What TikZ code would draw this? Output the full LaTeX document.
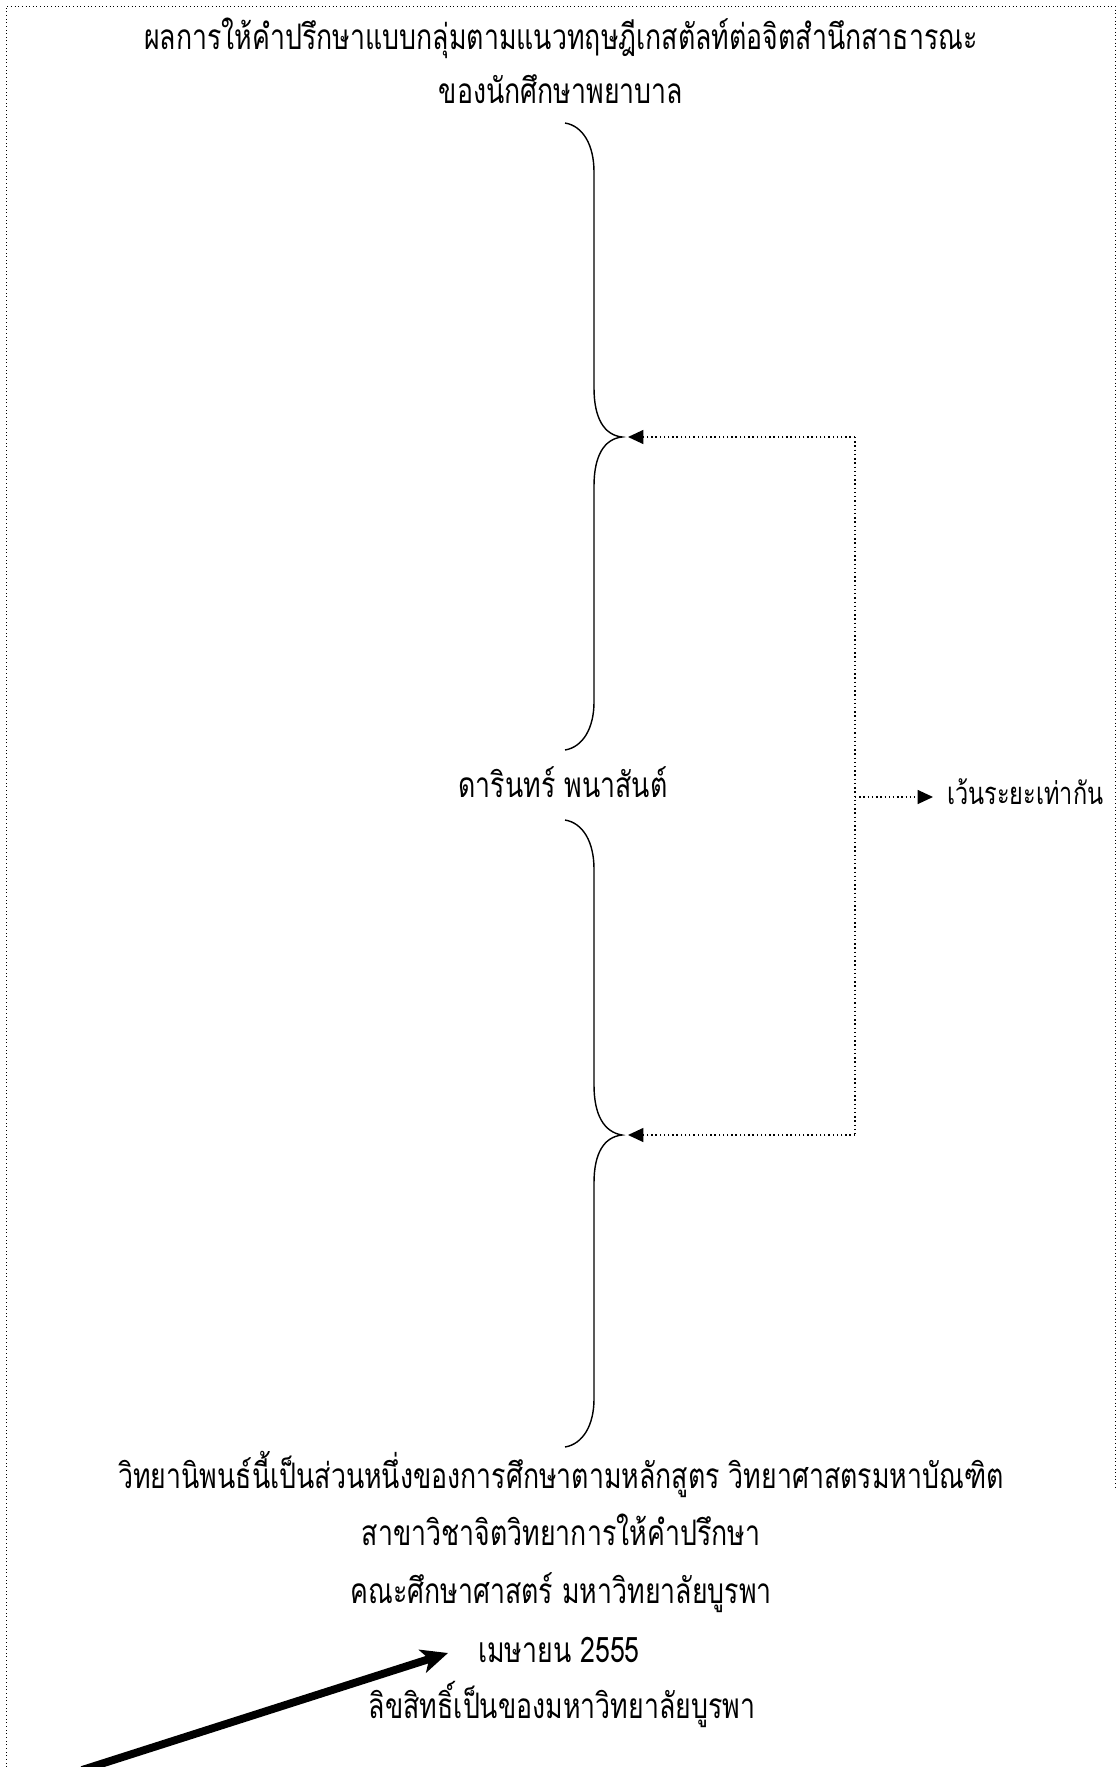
\documentclass[tikz,border=0pt]{standalone}
\usepackage{fontspec}
\newfontfamily\thaifont[Script=Thai,FakeStretch=0.76]{Loma}
\newcommand\bodytext{\thaifont\fontsize{25pt}{29pt}\selectfont}
\newcommand\notetext{\thaifont\fontsize{22pt}{26pt}\selectfont}
\usetikzlibrary{arrows.meta}

\begin{document}
\begin{tikzpicture}
[x=0.025cm,y=-0.025cm,%
  every node/.style={inner sep=0pt,font=\bodytext},%
  frame/.style={dotted,line width=0.6pt},%
  bracket/.style={line width=1pt},%
  gapline/.style={dotted,line width=1pt,-{Triangle[length=11pt,width=10pt]}},%
  bigarrow/.style={line width=5.6pt,-{Stealth[length=19pt,width=17pt,inset=5pt]}}]
\useasboundingbox (0,0) rectangle (1118,1767);
% dotted page frame
\draw[frame] (6,1767) -- (6,6) -- (1115,6) -- (1115,1490);
% title
\node[anchor=base] (title1) at (561,50) {ผลการให้คำปรึกษาแบบกลุ่มตามแนวทฤษฎีเกสตัลท์ต่อจิตสำนึกสาธารณะ};
\node[anchor=base] (title2) at (561,104) {ของนักศึกษาพยาบาล};
\node[anchor=base] (author) at (563,797) {ดารินทร์ พนาสันต์};
% bottom block
\node[anchor=base] (thesis) at (561,1488) {วิทยานิพนธ์นี้เป็นส่วนหนึ่งของการศึกษาตามหลักสูตร วิทยาศาสตรมหาบัณฑิต};
\node[anchor=base] (major) at (561,1545) {สาขาวิชาจิตวิทยาการให้คำปรึกษา};
\node[anchor=base] (faculty) at (561,1603) {คณะศึกษาศาสตร์ มหาวิทยาลัยบูรพา};
\node[anchor=base] (date) at (559,1662) {เมษายน 2555};
\node[anchor=base] (rights) at (562,1718) {ลิขสิทธิ์เป็นของมหาวิทยาลัยบูรพา};
% braces
\draw[bracket] (565,123) .. controls (583,126) and (594,145) .. (594,172)
  -- (594,388) .. controls (594,418) and (604,435) .. (622,437)
  .. controls (604,439) and (594,456) .. (594,486)
  -- (594,702) .. controls (594,728) and (583,747) .. (565,750);
\draw[bracket] (565,820) .. controls (583,823) and (594,842) .. (594,869)
  -- (594,1085) .. controls (594,1115) and (604,1132) .. (622,1135)
  .. controls (604,1137) and (594,1153) .. (594,1183)
  -- (594,1399) .. controls (594,1425) and (583,1444) .. (565,1447);
% spacing marks
\coordinate (tipA) at (628,437);
\coordinate (tipB) at (628,1135);
\coordinate (turnA) at (855,437);
\coordinate (turnB) at (855,1135);
\coordinate (turnM) at (855,797);
\node[font=\notetext,anchor=base west,inner xsep=10pt] (gaplabel) at (933,804) {เว้นระยะเท่ากัน};
\draw[gapline] (turnA) -- (tipA);
\draw[gapline] (turnB) -- (tipB);
\draw[dotted,line width=1pt] (turnA) -- (turnB);
\draw[gapline] (turnM) -- (turnM -| gaplabel.west);
% pointer
\coordinate (tail) at (82,1770);
\coordinate (pointtip) at (448,1653);
\draw[bigarrow] (tail) -- (pointtip);
\end{tikzpicture}
\end{document}
